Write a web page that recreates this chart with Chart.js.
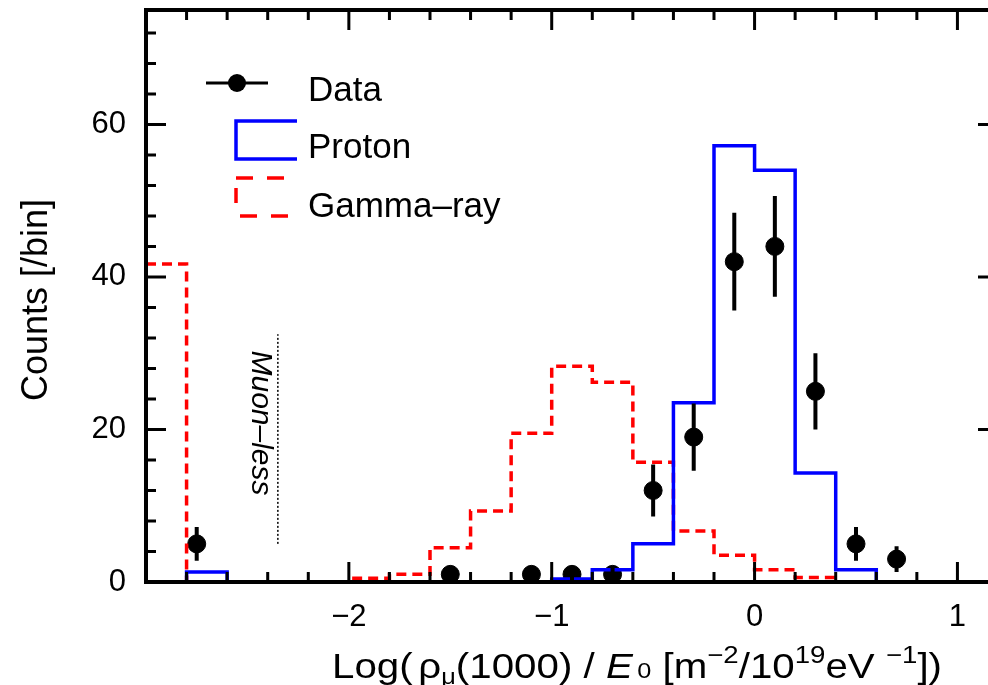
<!DOCTYPE html>
<html>
<head>
<meta charset="utf-8">
<script src="https://cdn.jsdelivr.net/npm/chart.js@4.4.0/dist/chart.umd.min.js"></script>
<style>
  html, body { margin: 0; padding: 0; background: #fff; overflow: hidden; }
  canvas { display: block; }
</style>
</head>
<body>
<canvas id="histChart" width="1010" height="685"></canvas>
<script>
// bin edges (width 0.2); last entry closes the last bin
var binEdges = [-3.0, -2.8, -2.6, -2.4, -2.2, -2.0, -1.8, -1.6, -1.4, -1.2, -1.0, -0.8, -0.6, -0.4, -0.2, 0.0, 0.2, 0.4, 0.6, 0.8];
var protonCounts = [0, 1.3, 0, 0, 0, 0, 0, 0, 0, 0, 0.4, 1.6, 5.0, 23.5, 57.2, 54.0, 14.3, 1.6, 0];
var gammaCounts = [41.7, 0, 0, 0, 0, 0.5, 1.0, 4.5, 9.3, 19.5, 28.3, 26.2, 15.7, 6.7, 3.5, 1.6, 0.6, 0, 0];

// measured events with error bars
var dataX = [-2.75, -1.5, -1.1, -0.9, -0.7, -0.5, -0.3, -0.1, 0.1, 0.3, 0.5, 0.7];
var dataY = [5, 1, 1, 1, 1, 12, 19, 42, 44, 25, 5, 3];
var dataErr = [2.2, 1, 1, 1, 1, 3.4, 4.4, 6.4, 6.6, 5.0, 2.2, 1.7];

var xTicks = [-2, -1, 0, 1];
var yTicks = [0, 20, 40, 60];

// "Muon-less" cut marker
var muonCutX = -2.35;
var muonCutY = [5, 32.5];

var FONT = '"Liberation Sans", Arial, Helvetica, sans-serif';
var minus = function (v) { return String(v).replace('-', '\u2212'); };

function steps(counts) {
  var pts = counts.map(function (c, i) { return { x: binEdges[i], y: c }; });
  pts.push({ x: binEdges[binEdges.length - 1], y: 0 });
  return pts;
}

// frame with inward ticks on all four sides
var frameTicks = {
  id: 'frameTicks',
  afterDraw: function (chart) {
    var ctx = chart.ctx, a = chart.chartArea, xs = chart.scales.x, ys = chart.scales.y;
    ctx.save();
    ctx.strokeStyle = '#000';
    ctx.lineWidth = 3;
    ctx.beginPath();
    for (var i = -15; i <= 6; i++) {
      var px = xs.getPixelForValue(i * 0.2);
      var len = (i % 5 === 0) ? 20 : 10;
      ctx.moveTo(px, a.bottom); ctx.lineTo(px, a.bottom - len);
      ctx.moveTo(px, a.top); ctx.lineTo(px, a.top + len);
    }
    for (var j = 0; j <= 18; j++) {
      var py = ys.getPixelForValue(j * 4);
      var l2 = (j % 5 === 0) ? 20 : 10;
      ctx.moveTo(a.left, py); ctx.lineTo(a.left + l2, py);
      ctx.moveTo(a.right, py); ctx.lineTo(a.right - l2, py);
    }
    ctx.stroke();
    ctx.lineWidth = 4;
    ctx.strokeRect(a.left, a.top, a.right - a.left, a.bottom - a.top);
    ctx.restore();
  }
};

// error bars, annotation, legend and axis titles
var extras = {
  id: 'extras',
  afterDatasetsDraw: function (chart) {
    var ctx = chart.ctx, xs = chart.scales.x, ys = chart.scales.y;
    ctx.save();
    ctx.strokeStyle = '#000';
    ctx.lineWidth = 4;
    ctx.beginPath();
    for (var i = 0; i < dataX.length; i++) {
      var px = xs.getPixelForValue(dataX[i]);
      ctx.moveTo(px, ys.getPixelForValue(dataY[i] - dataErr[i]));
      ctx.lineTo(px, ys.getPixelForValue(dataY[i] + dataErr[i]));
    }
    ctx.stroke();

    // muon-less marker
    var mx = xs.getPixelForValue(muonCutX);
    ctx.lineWidth = 1.5;
    ctx.setLineDash([2, 2]);
    ctx.beginPath();
    ctx.moveTo(mx, ys.getPixelForValue(muonCutY[0]));
    ctx.lineTo(mx, ys.getPixelForValue(muonCutY[1]));
    ctx.stroke();
    ctx.setLineDash([]);
    ctx.save();
    ctx.translate(mx - 18, ys.getPixelForValue((muonCutY[0] + muonCutY[1]) / 2) - 16);
    ctx.rotate(Math.PI / 2);
    ctx.fillStyle = '#000';
    ctx.font = 'italic 30px ' + FONT;
    ctx.textAlign = 'center';
    ctx.textBaseline = 'middle';
    ctx.fillText('Muon\u2013less', 0, 0);
    ctx.restore();
    ctx.restore();
  },
  afterDraw: function (chart) {
    var ctx = chart.ctx, ds = chart.data.datasets;
    ctx.save();
    ctx.fillStyle = '#000';
    ctx.font = '35px ' + FONT;
    ctx.textAlign = 'left';
    ctx.textBaseline = 'alphabetic';

    // Data
    ctx.strokeStyle = '#000';
    ctx.lineWidth = 3;
    ctx.beginPath(); ctx.moveTo(206, 83); ctx.lineTo(268, 83); ctx.stroke();
    ctx.beginPath(); ctx.arc(237, 83, 9, 0, Math.PI * 2); ctx.fill();
    ctx.fillText(ds[2].label, 308, 101);

    // Proton
    ctx.strokeStyle = ds[0].borderColor;
    ctx.lineWidth = ds[0].borderWidth;
    ctx.beginPath(); ctx.moveTo(297, 121); ctx.lineTo(236, 121); ctx.lineTo(236, 159); ctx.lineTo(297, 159); ctx.stroke();
    ctx.fillText(ds[0].label, 308, 158);

    // Gamma-ray
    ctx.strokeStyle = ds[1].borderColor;
    ctx.lineWidth = ds[1].borderWidth;
    ctx.setLineDash([17, 14]);
    ctx.beginPath(); ctx.moveTo(236, 178); ctx.lineTo(290, 178); ctx.stroke();
    ctx.beginPath(); ctx.moveTo(240, 216); ctx.lineTo(292, 216); ctx.stroke();
    ctx.setLineDash([15, 10]);
    ctx.beginPath(); ctx.moveTo(236, 188); ctx.lineTo(236, 207); ctx.stroke();
    ctx.setLineDash([]);
    ctx.fillText(ds[1].label, 308, 217);

    // y title
    ctx.save();
    ctx.translate(37, 300);
    ctx.rotate(-Math.PI / 2);
    ctx.font = '36px ' + FONT;
    ctx.textAlign = 'center';
    ctx.textBaseline = 'middle';
    ctx.fillText('Counts [/bin]', 0, 0);
    ctx.restore();

    // x title with sub/superscripts
    var parts = [
      { t: 'Log(', s: 35 }, { t: ' ', s: 18 },
      { t: '\u03c1', s: 35 }, { t: '\u03bc', s: 22, dy: 6 },
      { t: '(1000) / ', s: 35 }, { t: 'E', s: 35, it: true }, { t: ' ', s: 14 },
      { t: '0', s: 22 }, { t: ' [m', s: 35 }, { t: '\u22122', s: 24, dy: -15 },
      { t: '/10', s: 35 }, { t: '19', s: 24, dy: -15 }, { t: 'eV ', s: 35 },
      { t: '\u22121', s: 24, dy: -15 }, { t: '])', s: 35 }
    ];
    var total = 0;
    parts.forEach(function (p) {
      ctx.font = (p.it ? 'italic ' : '') + p.s + 'px ' + FONT;
      p.w = ctx.measureText(p.t).width;
      total += p.w;
    });
    var sx = 610 / total;
    ctx.save();
    ctx.translate(332, 678);
    ctx.scale(sx, 1);
    var cx = 0;
    parts.forEach(function (p) {
      ctx.font = (p.it ? 'italic ' : '') + p.s + 'px ' + FONT;
      ctx.fillText(p.t, cx, p.dy || 0);
      cx += p.w;
    });
    ctx.restore();
    ctx.restore();
  }
};

var chart = new Chart(document.getElementById('histChart'), {
  type: 'scatter',
  data: {
    datasets: [{
      type: 'line',
      label: 'Proton',
      data: steps(protonCounts),
      stepped: 'before',
      borderColor: '#0000ff',
      borderWidth: 3.5,
      pointRadius: 0,
      fill: false
    }, {
      type: 'line',
      label: 'Gamma\u2013ray',
      data: steps(gammaCounts),
      stepped: 'before',
      borderColor: '#ff0000',
      borderWidth: 3.5,
      borderDash: [10, 6],
      pointRadius: 0,
      fill: false
    }, {
      label: 'Data',
      data: dataX.map(function (x, i) { return { x: x, y: dataY[i] }; }),
      backgroundColor: '#000',
      borderColor: '#000',
      pointRadius: 9,
      pointHoverRadius: 9
    }]
  },
  options: {
    responsive: false,
    animation: false,
    devicePixelRatio: 1,
    layout: { padding: { top: 7, right: 12, left: 0, bottom: 0 } },
    plugins: { legend: { display: false }, tooltip: { enabled: false } },
    scales: {
      x: {
        type: 'linear',
        min: -3, max: 1.2,
        grid: { display: false, drawTicks: false },
        border: { display: false },
        afterBuildTicks: function (s) { s.ticks = xTicks.map(function (v) { return { value: v }; }); },
        afterFit: function (s) { s.height = 103; s.paddingLeft = 0; s.paddingRight = 0; },
        ticks: {
          padding: 17,
          color: '#000',
          font: { family: FONT, size: 31 },
          maxRotation: 0,
          callback: function (v) { return minus(v); }
        }
      },
      y: {
        min: 0, max: 75,
        grid: { display: false, drawTicks: false },
        border: { display: false },
        afterBuildTicks: function (s) { s.ticks = yTicks.map(function (v) { return { value: v }; }); },
        afterFit: function (s) { s.width = 146; s.paddingTop = 0; s.paddingBottom = 0; },
        ticks: {
          padding: 20,
          color: '#000',
          font: { family: FONT, size: 31 },
          callback: function (v) { return minus(v); }
        }
      }
    }
  },
  plugins: [frameTicks, extras]
});
</script>
</body>
</html>
